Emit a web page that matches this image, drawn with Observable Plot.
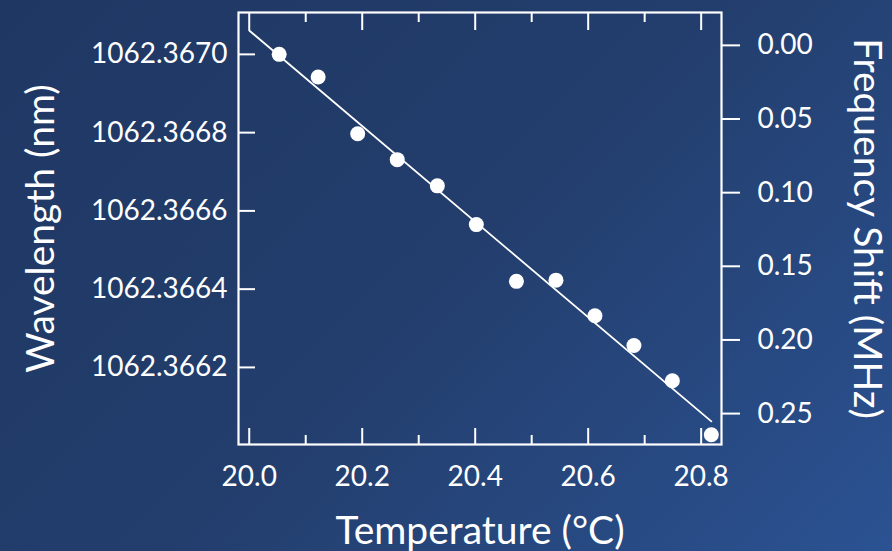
<!DOCTYPE html>
<html>
<head>
<meta charset="utf-8">
<script src="https://cdn.jsdelivr.net/npm/d3@7"></script>
<script src="https://cdn.jsdelivr.net/npm/@observablehq/plot@0.6"></script>
<style>
html, body { margin: 0; padding: 0; width: 892px; height: 551px; overflow: hidden; }
body { background: linear-gradient(135deg, #1f3763 0%, #233e6d 50%, #2b5292 100%); }
#chart svg { display: block; }
</style>
</head>
<body>
<div id="chart"></div>
<script>
const temperature = [20.053, 20.122, 20.192, 20.262, 20.333, 20.402, 20.473, 20.543, 20.612, 20.681, 20.749, 20.818];
const wavelength = [1062.367000, 1062.366942, 1062.366797, 1062.366731, 1062.366664, 1062.366565,
                    1062.366420, 1062.366423, 1062.366332, 1062.366256, 1062.366166, 1062.366028];

// Linear fit line endpoints
const fitTemperature = [20.0, 20.818];
const fitWavelength = [1062.367061, 1062.366062];

// Tick values
const xMajorTicks = [20.0, 20.2, 20.4, 20.6, 20.8];
const xMinorTicks = [20.1, 20.3, 20.5, 20.7];
const wavelengthTicks = [1062.3670, 1062.3668, 1062.3666, 1062.3664, 1062.3662];
const freqTicks = [0.00, 0.05, 0.10, 0.15, 0.20, 0.25];

// Secondary axis relation: wavelength = freqZeroWavelength - shift * nmPerMHz
const freqZeroWavelength = 1062.367023;
const nmPerMHz = 0.003764;

const points = temperature.map((t, i) => ({t, w: wavelength[i]}));
const fit = fitTemperature.map((t, i) => ({t, w: fitWavelength[i]}));
const freqTickPositions = freqTicks.map(f => freqZeroWavelength - f * nmPerMHz);
const freqLabel = d => {
  let f = Math.round((freqZeroWavelength - d) / nmPerMHz * 100) / 100;
  if (Math.abs(f) < 1e-9) f = 0;
  return d3.format(".2f")(f);
};

const font = "Lato, 'Open Sans', sans-serif";
const white = "#ffffff";

const chart = Plot.plot({
  width: 892,
  height: 551,
  marginLeft: 238,
  marginRight: 171,
  marginTop: 12,
  marginBottom: 107,
  style: { background: "transparent", color: white, fontFamily: font },
  x: { domain: [19.981, 20.836] },
  y: { domain: [1062.366003, 1062.367107] },
  marks: [
    // bottom axis: labels
    Plot.axisX({ anchor: "bottom", ticks: xMajorTicks, tickSize: 0, tickPadding: 22, tickFormat: d3.format(".1f"), fontSize: 28, fill: white, label: null }),
    // bottom ticks (inward)
    Plot.axisX({ anchor: "bottom", ticks: xMajorTicks, tickSize: -16, tickFormat: () => "", stroke: white, strokeWidth: 2, label: null }),
    Plot.axisX({ anchor: "bottom", ticks: xMinorTicks, tickSize: -9, tickFormat: () => "", stroke: white, strokeWidth: 2, label: null }),
    // top ticks (inward)
    Plot.axisX({ anchor: "top", ticks: xMajorTicks, tickSize: -17, tickFormat: () => "", stroke: white, strokeWidth: 2, label: null }),
    Plot.axisX({ anchor: "top", ticks: xMinorTicks, tickSize: -9, tickFormat: () => "", stroke: white, strokeWidth: 2, label: null }),
    // left axis (inward ticks)
    Plot.axisY({ anchor: "left", ticks: wavelengthTicks, tickSize: 0, tickPadding: 11, tickFormat: d3.format(".4f"), fontSize: 28, fill: white, label: null }),
    Plot.axisY({ anchor: "left", ticks: wavelengthTicks, tickSize: -17, tickFormat: () => "", stroke: white, strokeWidth: 2, label: null }),
    // right axis: frequency shift (outward ticks)
    Plot.axisY({ anchor: "right", ticks: freqTickPositions, tickSize: 18, tickPadding: 18, tickFormat: freqLabel, fontSize: 28, fill: white, stroke: white, strokeWidth: 2, label: null }),
    Plot.frame({ stroke: white, strokeWidth: 2.2 }),
    // fit line
    Plot.line(fit, { x: "t", y: "w", stroke: white, strokeWidth: 1.8 }),
    // data points
    Plot.dot(points, { x: "t", y: "w", r: 7.5, fill: white, stroke: "none" }),
    // axis titles
    Plot.text(["Temperature (°C)"], { frameAnchor: "bottom", textAnchor: "middle", lineAnchor: "middle", dy: 87, fontSize: 39, fill: white, text: d => d }),
    Plot.text(["Wavelength (nm)"], { frameAnchor: "left", textAnchor: "middle", lineAnchor: "middle", dx: -197, rotate: -90, fontSize: 39, fill: white, text: d => d }),
    Plot.text(["Frequency Shift (MHz)"], { frameAnchor: "right", textAnchor: "middle", lineAnchor: "middle", dx: 145, rotate: 90, fontSize: 39, fill: white, text: d => d })
  ]
});
document.getElementById("chart").appendChild(chart);
</script>
</body>
</html>
